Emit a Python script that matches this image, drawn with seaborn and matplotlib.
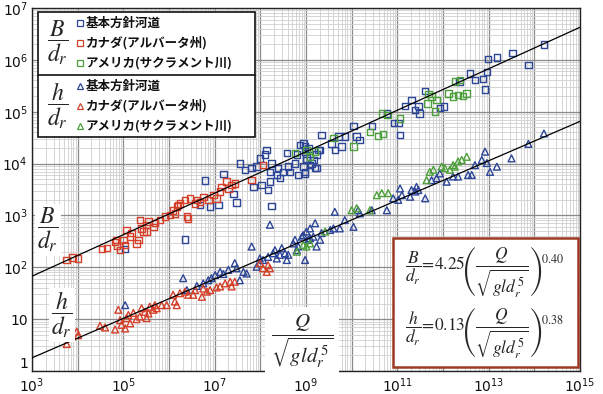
import numpy as np
import pandas as pd
import matplotlib
matplotlib.use("Agg")
import matplotlib.pyplot as plt
import seaborn as sns
from matplotlib.patches import Rectangle
from matplotlib.lines import Line2D
from matplotlib.ticker import FixedLocator, NullFormatter

# Data sets (legend labels)
SOURCES = ["基本方針河道", "カナダ(アルバータ州)", "アメリカ(サクラメント川)"]
COLORS = ["#2c4597", "#d4402a", "#4c9f3a"]

# Values are given as log10 of Q/sqrt(g l d_r^5) and log10 of B/d_r or h/d_r
jp_B_logq = [5.04, 6.35, 6.68, 6.90, 7.08, 7.48, 8.25, 6.79, 7.19, 7.41, 7.55, 7.66, 7.81, 7.92,
             7.85, 7.99, 8.10, 8.03, 8.14, 8.21, 8.21, 8.17, 8.25, 8.39, 8.36, 8.43, 8.50, 8.58,
             8.61, 8.65, 8.76, 8.80, 8.87, 8.94, 8.98, 9.01, 9.09, 9.16, 9.23, 9.27, 9.23, 8.98,
             8.83, 9.05, 8.98, 9.01, 8.94, 9.12, 8.98, 9.20, 9.31, 9.34, 9.56, 9.63, 9.71, 9.78,
             9.85, 10.04, 10.11, 10.17, 10.44, 10.77, 10.93, 11.02, 11.06, 11.17, 11.31, 11.39,
             11.46, 11.48, 11.61, 11.93, 12.02, 12.36, 12.59, 12.70, 12.88, 12.92, 12.96, 12.99,
             13.18, 13.52, 13.87, 14.21]
jp_B_logv = [2.35, 2.54, 3.20, 3.17, 3.20, 3.25, 3.18, 3.67, 3.80, 3.41, 4.00, 3.88, 3.91, 3.94,
             3.55, 4.10, 4.17, 3.59, 4.26, 3.84, 3.65, 3.49, 4.00, 3.91, 3.78, 3.72, 3.84, 4.20,
             3.94, 3.84, 4.00, 4.17, 4.36, 4.39, 4.23, 4.10, 3.97, 4.07, 4.17, 4.26, 3.91, 3.84,
             3.78, 4.29, 4.33, 4.07, 3.94, 4.00, 3.81, 3.91, 4.26, 4.55, 4.39, 4.26, 4.52, 4.33,
             4.52, 4.72, 4.52, 4.45, 4.72, 4.97, 4.78, 4.78, 4.55, 5.11, 5.23, 5.03,
             5.11, 4.97, 5.40, 5.07, 5.10, 5.58, 5.74, 5.61, 5.63, 5.43, 5.77, 6.02,
             6.05, 6.13, 5.90, 6.30]

ca_B_logq = [3.76, 3.89, 4.01, 4.53, 4.64, 4.84, 4.86, 4.93, 4.82, 5.00, 5.04, 5.07, 5.15, 5.18,
             5.29, 5.33, 5.36, 5.40, 5.44, 5.51, 5.55, 5.51, 5.66, 5.69, 5.80, 5.91, 6.02, 6.09,
             6.17, 6.20, 6.13, 6.24, 6.35, 6.39, 6.42, 6.46, 6.57, 6.61, 6.68, 6.75, 6.86, 6.97,
             7.04, 7.12, 7.15, 7.26, 7.30, 7.37, 7.44, 7.81, 8.06]
ca_B_logv = [2.14, 2.19, 2.17, 2.35, 2.37, 2.53, 2.41, 2.33, 2.49, 2.53, 2.43, 2.72, 2.59, 2.66,
             2.46, 2.53, 2.91, 2.75, 2.69, 2.82, 2.88, 2.69, 2.78, 2.85, 2.91, 2.98, 3.01, 3.10,
             3.17, 3.20, 3.04, 3.23, 3.30, 2.98, 2.94, 3.33, 3.23, 3.30, 3.26, 3.36, 3.30, 3.39,
             3.33, 3.46, 3.55, 3.65, 3.52, 3.59, 3.62, 3.68, 3.97]

us_B_logq = [8.76, 9.01, 9.09, 9.20, 9.60, 10.04, 10.40, 10.58, 10.69, 10.66, 10.78, 11.06,
             11.68, 11.75, 11.66, 11.82, 11.86, 12.12, 12.22, 12.33, 12.44, 12.52, 12.37, 12.26]
us_B_logv = [4.20, 4.26, 4.13, 4.23, 4.49, 4.33, 4.61, 4.53, 4.57, 4.97, 4.94, 4.87,
             5.34, 5.29, 5.16, 5.00, 5.23, 5.35, 5.29, 5.32, 5.30, 5.35, 5.61, 5.58]

jp_h_logq = [5.04, 6.31, 6.39, 6.61, 6.75, 6.86, 6.93, 7.01, 7.12, 7.19, 7.30, 7.44, 7.48, 7.55,
             7.63, 7.70, 7.81, 7.92, 7.99, 8.06, 8.17, 8.21, 8.28, 8.32, 8.36, 8.43, 8.47, 8.54,
             8.58, 8.61, 8.72, 8.76, 8.80, 8.83, 8.91, 8.94, 8.98, 9.01, 9.09, 9.16, 9.20, 9.23,
             9.05, 9.09, 9.31, 9.34, 9.53, 9.60, 9.63, 9.74, 9.85, 10.04, 10.14, 10.18, 10.44,
             10.77, 10.91, 11.06, 11.02, 11.10, 11.28, 11.31, 11.39, 11.42, 11.46, 11.61, 11.75,
             11.86, 11.93, 12.08, 12.22, 12.33, 12.55, 12.63, 12.70, 12.85, 12.92, 12.96, 13.03,
             13.18, 13.50, 13.87, 14.21]
jp_h_logv = [1.27, 1.79, 1.56, 1.64, 1.69, 1.75, 1.79, 1.85, 1.91, 1.87, 1.95, 2.08, 1.98, 1.75,
             1.91, 1.88, 2.40, 2.01, 2.17, 2.14, 2.20, 2.82, 2.27, 2.33, 2.17, 2.24, 2.37, 2.27,
             2.14, 2.24, 2.46, 2.53, 2.33, 2.40, 2.59, 2.62, 2.14, 2.69, 2.56, 2.59, 2.85, 2.40,
             2.53, 2.75, 2.53, 2.66, 2.72, 2.75, 3.07, 2.75, 2.91, 2.78, 3.10, 3.04, 3.10,
             3.10, 3.33, 3.52, 3.30, 3.39, 3.36, 3.49, 3.46, 3.55, 3.49, 3.33, 3.68,
             3.72, 3.81, 3.65, 3.75, 3.75, 3.78, 3.78, 3.97, 4.07, 4.23, 4.01, 3.84,
             3.94, 4.10, 4.38, 4.58]

ca_h_logq = [3.76, 3.87, 3.98, 4.01, 4.49, 4.60, 4.82, 4.89, 4.93, 4.96, 5.04, 5.07, 5.11, 5.15,
             5.22, 5.29, 5.36, 5.40, 5.47, 5.51, 5.55, 5.58, 5.66, 5.69, 5.73, 5.84, 5.95, 6.09,
             6.13, 6.17, 6.24, 6.35, 6.42, 6.53, 6.57, 6.72, 6.75, 6.83, 6.90, 7.04, 7.12, 7.23,
             7.34, 7.37, 7.44, 7.99, 8.06, 8.14, 8.17, 8.21]
ca_h_logv = [0.52, 0.66, 0.76, 0.69, 0.87, 0.84, 0.80, 1.18, 0.98, 0.89, 0.82, 1.02, 1.08, 0.92,
             1.12, 1.00, 1.05, 1.21, 1.14, 1.02, 1.11, 1.24, 1.18, 1.27, 1.21, 1.27, 1.27, 1.47,
             1.34, 1.27, 1.50, 1.53, 1.47, 1.47, 1.56, 1.43, 1.59, 1.53, 1.56, 1.61, 1.63, 1.69,
             1.72, 1.63, 1.72, 2.08, 1.98, 1.91, 2.04, 1.98]

us_h_logq = [8.80, 8.94, 9.01, 9.09, 9.42, 10.00, 10.11, 10.40, 10.55, 10.66, 10.80, 11.64,
             11.71, 11.79, 11.97, 12.04, 12.15, 12.22, 12.33, 12.41, 12.52, 12.26]
us_h_logv = [2.30, 2.43, 2.40, 2.46, 2.69, 3.10, 3.14, 3.10, 3.39, 3.43, 3.43, 3.68,
             3.84, 3.88, 3.94, 3.91, 3.88, 3.97, 4.04, 4.07, 4.13, 3.94]

# Regression coefficients shown in the equation box
B_COEF, B_EXP = 4.25, 0.40
H_COEF, H_EXP = 0.13, 0.38

X_TICKS = [1e3, 1e5, 1e7, 1e9, 1e11, 1e13, 1e15]
X_TICK_LABELS = ["$10^{3}$", "$10^{5}$", "$10^{7}$", "$10^{9}$", "$10^{11}$", "$10^{13}$", "$10^{15}$"]
Y_TICKS = [1, 1e1, 1e2, 1e3, 1e4, 1e5, 1e6, 1e7]
Y_TICK_LABELS = ["1", "10", "$10^{2}$", "$10^{3}$", "$10^{4}$", "$10^{5}$", "$10^{6}$", "$10^{7}$"]

sns.set_style("white")
plt.rcParams["font.family"] = ["DejaVu Sans", "Noto Sans CJK JP"]

W, H = 603, 394
fig = plt.figure(figsize=(W / 100, H / 100), dpi=100)
ax = fig.add_axes([32 / W, 1 - 371 / H, 548 / W, 363 / H])
ax.set_xscale("log")
ax.set_yscale("log")
ax.set_xlim(1e3, 1e15)
ax.set_ylim(1, 1e7)

# log-paper grid: a line at every decade, lighter lines at 2..9
ax.xaxis.set_minor_locator(FixedLocator([m * 10.0 ** k for k in range(3, 15) for m in range(2, 10)]))
ax.yaxis.set_minor_locator(FixedLocator([m * 10.0 ** k for k in range(0, 7) for m in range(2, 10)]))
ax.xaxis.set_minor_formatter(NullFormatter())
ax.yaxis.set_minor_formatter(NullFormatter())

ax.set_xticks(X_TICKS + [10.0 ** k for k in range(4, 15, 2)])
ax.set_xticklabels(X_TICK_LABELS + [""] * 6)
ax.set_yticks(Y_TICKS)
ax.set_yticklabels(Y_TICK_LABELS)
ax.grid(which="major", color="#8a8a8a", lw=0.9)
ax.grid(which="minor", color="#cfcfcf", lw=0.6)
ax.set_axisbelow(True)
ax.tick_params(axis="both", which="both", length=0, labelsize=10, colors="#111111")
ax.tick_params(axis="x", pad=4)
ax.tick_params(axis="y", pad=3)
# lift the "1" so it clears the first x label
ax.get_yticklabels()[0].set_verticalalignment("bottom")
for s in ax.spines.values():
    s.set_color("#222222")
    s.set_linewidth(1.0)

# scatter points
groups = [
    (jp_B_logq, jp_B_logv, 0, "s"), (ca_B_logq, ca_B_logv, 1, "s"), (us_B_logq, us_B_logv, 2, "s"),
    (jp_h_logq, jp_h_logv, 0, "^"), (ca_h_logq, ca_h_logv, 1, "^"), (us_h_logq, us_h_logv, 2, "^"),
]
for lq, lv, idx, mk in groups:
    df = pd.DataFrame({"q": 10.0 ** np.asarray(lq), "v": 10.0 ** np.asarray(lv)})
    sns.scatterplot(data=df, x="q", y="v", ax=ax, marker=mk, s=22 if mk == "s" else 24,
                    color="none", edgecolor=COLORS[idx], linewidth=1.0, zorder=3, legend=False)

# regression lines
q_line = np.logspace(3, 15, 60)
sns.lineplot(x=q_line, y=B_COEF * q_line ** B_EXP, ax=ax, color="black", lw=0.9, zorder=4)
sns.lineplot(x=q_line, y=H_COEF * q_line ** H_EXP, ax=ax, color="black", lw=0.9, zorder=4)
ax.set_xlabel("")
ax.set_ylabel("")


def fp(x, y):
    return (x / W, 1 - y / H)


# legend block
x0, y0 = fp(38, 137)
fig.add_artist(Rectangle((x0, y0), (255 - 38) / W, (137 - 12) / H, transform=fig.transFigure,
                         facecolor="white", edgecolor="#111111", lw=1.2, zorder=5))
fig.add_artist(Line2D([38 / W, 255 / W], [1 - 75 / H] * 2, transform=fig.transFigure,
                      color="#111111", lw=1.2, zorder=6))
frac_style = dict(transform=fig.transFigure, ha="center", va="center", fontsize=17,
                  math_fontfamily="stix", zorder=7)
fig.text(*fp(58, 43), r"$\dfrac{B}{d_r}$", **frac_style)
fig.text(*fp(58, 106), r"$\dfrac{h}{d_r}$", **frac_style)
rows = [(23, "s", 0), (43, "s", 1), (63, "s", 2), (86, "^", 0), (106, "^", 1), (126, "^", 2)]
for yy, mk, idx in rows:
    fig.add_artist(Line2D([80 / W], [1 - yy / H], transform=fig.transFigure, marker=mk,
                          markersize=3.8, markerfacecolor="none", markeredgecolor=COLORS[idx],
                          markeredgewidth=0.9, ls="none", zorder=7))
    fig.text(*fp(86, yy), SOURCES[idx], transform=fig.transFigure, ha="left", va="center",
             fontsize=9, fontweight="bold", family=["Noto Sans CJK JP", "DejaVu Sans"],
             color="#111111", zorder=7)

# axis descriptions placed on the plot
lab_box = dict(facecolor="white", edgecolor="none", pad=1.5)
fig.text(*fp(48, 230), r"$\dfrac{B}{d_r}$", transform=fig.transFigure, ha="center", va="center",
         fontsize=17, math_fontfamily="stix", bbox=lab_box, zorder=5)
fig.text(*fp(62, 315), r"$\dfrac{h}{d_r}$", transform=fig.transFigure, ha="center", va="center",
         fontsize=17, math_fontfamily="stix", bbox=lab_box, zorder=5)
fig.text(*fp(302, 342), r"$\dfrac{Q}{\sqrt{g l d_r^{\,5}}}$", transform=fig.transFigure,
         ha="center", va="center", fontsize=15, math_fontfamily="stix",
         bbox=dict(facecolor="white", edgecolor="none", pad=4), zorder=5)

# equation box
ex0, ey0 = fp(393, 367)
fig.add_artist(Rectangle((ex0, ey0), (578 - 393) / W, (367 - 238) / H, transform=fig.transFigure,
                         facecolor="white", edgecolor="#9c3b22", lw=1.8, zorder=5))
eq_style = dict(transform=fig.transFigure, ha="left", va="center", fontsize=12.5,
                math_fontfamily="stix", zorder=7)
fig.text(*fp(405, 272), r"$\dfrac{B}{d_r}\!=\!4.25\!\left(\dfrac{Q}{\sqrt{g l d_r^{\,5}}}\right)^{\!0.40}$", **eq_style)
fig.text(*fp(405, 333), r"$\dfrac{h}{d_r}\!=\!0.13\!\left(\dfrac{Q}{\sqrt{g l d_r^{\,5}}}\right)^{\!0.38}$", **eq_style)

fig.savefig("out.png", dpi=100)
